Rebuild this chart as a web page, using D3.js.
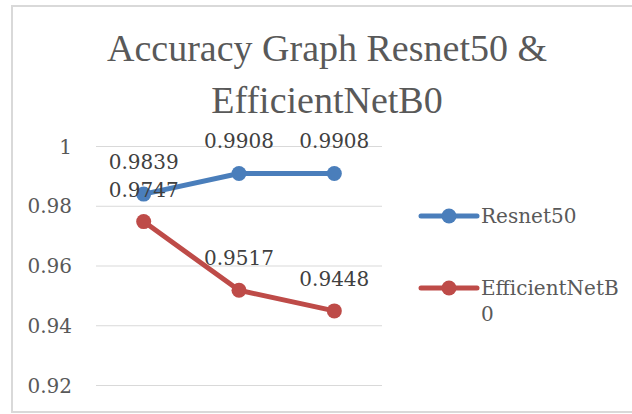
<!DOCTYPE html>
<html>
<head>
<meta charset="utf-8">
<script src="https://cdn.jsdelivr.net/npm/d3@7"></script>
<style>
  html, body { margin: 0; padding: 0; background: #fff; }
  #chart { width: 632px; height: 414px; }
</style>
</head>
<body>
<div id="chart"></div>
<script>
// ------------------------------------------------------------------ DATA
const categories = ['1', '2', '3'];
const resnet50 = [0.9839, 0.9908, 0.9908];
const efficientNetB0 = [0.9747, 0.9517, 0.9448];
const yTicks = [0.92, 0.94, 0.96, 0.98, 1];
const seriesNames = ['Resnet50', 'EfficientNetB0'];
const seriesColors = ['#4A7EBB', '#BE4B48'];
const titleLines = ['Accuracy Graph Resnet50 &', 'EfficientNetB0'];

const series = [
  { name: seriesNames[0], color: seriesColors[0], values: resnet50 },
  { name: seriesNames[1], color: seriesColors[1], values: efficientNetB0 }
];

const width = 632, height = 414;
const plot = { left: 96, right: 382, top: 146, bottom: 385 };

// ------------------------------------------------------------------ SVG
const svg = d3.select('#chart').append('svg')
  .attr('width', width)
  .attr('height', height)
  .attr('viewBox', [0, 0, width, height]);

// chart outline (only top/left visible in the crop)
svg.append('rect')
  .attr('x', 12).attr('y', 6)
  .attr('width', 700).attr('height', 406)
  .attr('fill', 'none')
  .attr('stroke', '#d9d9d9')
  .attr('stroke-width', 2);

// ------------------------------------------------------------------ TITLE
svg.append('g')
  .selectAll('text')
  .data(titleLines)
  .join('text')
  .attr('x', 327)
  .attr('y', (d, i) => 61 + i * 52)
  .attr('text-anchor', 'middle')
  .attr('font-family', '"Liberation Serif", serif')
  .attr('font-size', 38)
  .attr('fill', '#595959')
  .text(d => d);

// ------------------------------------------------------------------ SCALES
const x = d3.scalePoint()
  .domain(categories)
  .range([plot.left, plot.right])
  .padding(0.5);

const y = d3.scaleLinear()
  .domain([0.92, 1])
  .range([plot.bottom, plot.top]);

// ------------------------------------------------------------------ GRID + Y AXIS
const yAxis = svg.append('g')
  .attr('transform', `translate(${plot.left},0)`)
  .call(d3.axisLeft(y)
    .tickValues(yTicks)
    .tickSize(-(plot.right - plot.left))
    .tickPadding(24)
    .tickFormat(d => String(+d.toFixed(2))));

yAxis.select('.domain').remove();
yAxis.selectAll('.tick line')
  .attr('stroke', '#d9d9d9')
  .attr('stroke-width', 1.2);
yAxis.selectAll('.tick text')
  .attr('font-family', '"DejaVu Serif", serif')
  .attr('font-size', 20)
  .attr('fill', '#595959')
  .attr('dy', '0.36em');

// ------------------------------------------------------------------ LINES
const line = d3.line()
  .x((d, i) => x(categories[i]))
  .y(d => y(d));

const sg = svg.append('g')
  .selectAll('g')
  .data(series)
  .join('g');

sg.append('path')
  .attr('d', d => line(d.values))
  .attr('fill', 'none')
  .attr('stroke', d => d.color)
  .attr('stroke-width', 5)
  .attr('stroke-linejoin', 'round')
  .attr('stroke-linecap', 'round');

sg.selectAll('circle')
  .data(d => d.values.map((v, i) => ({ v, i, color: d.color })))
  .join('circle')
  .attr('cx', d => x(categories[d.i]))
  .attr('cy', d => y(d.v))
  .attr('r', 7.5)
  .attr('fill', d => d.color);

// ------------------------------------------------------------------ DATA LABELS
sg.selectAll('text')
  .data(d => d.values.map((v, i) => ({ v, i })))
  .join('text')
  .attr('x', d => x(categories[d.i]))
  .attr('y', d => y(d.v) - 25)
  .attr('text-anchor', 'middle')
  .attr('font-family', '"DejaVu Serif", serif')
  .attr('font-size', 20)
  .attr('fill', '#404040')
  .text(d => d.v.toFixed(4));

// ------------------------------------------------------------------ LEGEND
const legend = svg.append('g')
  .selectAll('g')
  .data(series)
  .join('g')
  .attr('transform', (d, i) => `translate(421,${216 + i * 72})`);

legend.append('line')
  .attr('x1', 0).attr('x2', 56)
  .attr('stroke', d => d.color)
  .attr('stroke-width', 5)
  .attr('stroke-linecap', 'round');

legend.append('circle')
  .attr('cx', 28)
  .attr('r', 7.5)
  .attr('fill', d => d.color);

const maxLegendW = 140;
legend.append('text')
  .attr('x', 60)
  .attr('y', 0)
  .attr('font-family', '"DejaVu Serif", serif')
  .attr('font-size', 20)
  .attr('fill', '#595959')
  .each(function (d) {
    // wrap by characters, like the original legend does
    const t = d3.select(this);
    let lineStr = '';
    let tspan = t.append('tspan').attr('x', 60).attr('dy', '0.36em');
    for (const ch of d.name) {
      tspan.text(lineStr + ch);
      if (tspan.node().getComputedTextLength() > maxLegendW && lineStr.length) {
        tspan.text(lineStr);
        lineStr = ch;
        tspan = t.append('tspan').attr('x', 60).attr('dy', 26).text(ch);
      } else {
        lineStr += ch;
      }
    }
  });
</script>
</body>
</html>
